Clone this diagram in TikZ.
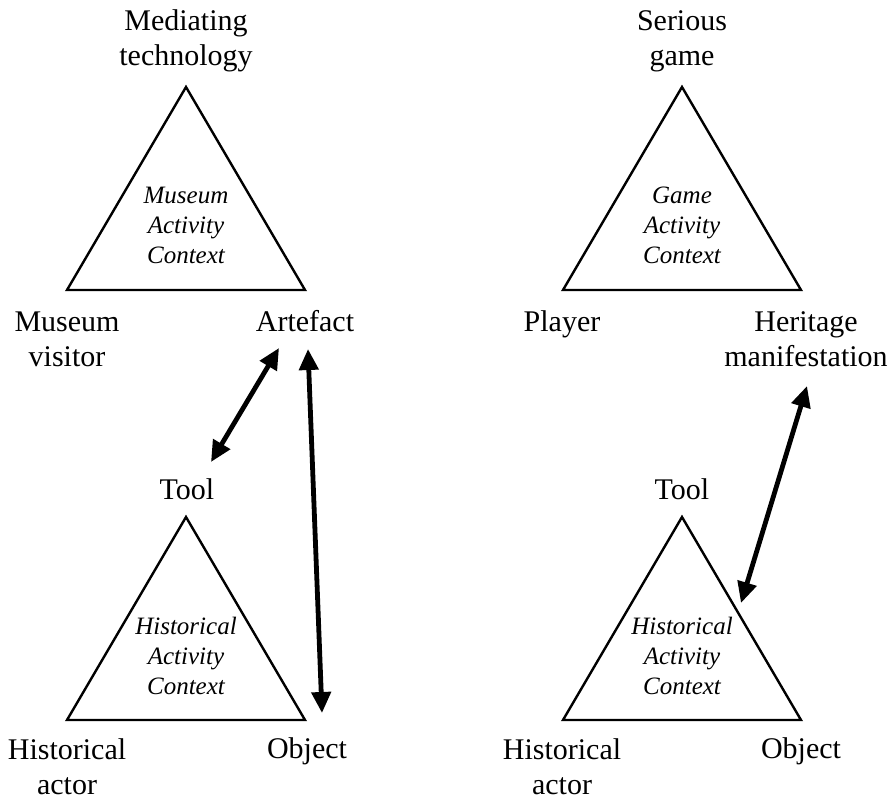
\documentclass[tikz,border=0pt]{standalone}
\usepackage{fontspec}
\setmainfont{Liberation Serif}
\usetikzlibrary{arrows.meta}
\begin{document}
\begin{tikzpicture}[x=1pt,y=-1pt,
  lbl/.style={align=center,inner sep=0pt,anchor=base,font=\fontsize{30}{35}\selectfont},
  ctx/.style={align=center,inner sep=0pt,anchor=base,font=\fontsize{25}{30}\selectfont\itshape},
  tri/.style={line width=2.4pt,line join=miter},
  dbl/.style={line width=4.8pt,{Triangle[length=21pt,width=19pt]}-{Triangle[length=21pt,width=19pt]}}]
\useasboundingbox (0,0) rectangle (895,801);
% triangles
\coordinate (A1) at (186,87);  \coordinate (B1) at (67,290);  \coordinate (C1) at (305,290);
\coordinate (A2) at (682,87);  \coordinate (B2) at (563,290); \coordinate (C2) at (801,290);
\coordinate (A3) at (186,517); \coordinate (B3) at (67,720);  \coordinate (C3) at (305,720);
\coordinate (A4) at (682,517); \coordinate (B4) at (563,720); \coordinate (C4) at (801,720);
\draw[tri] (A1) -- (B1) -- (C1) -- cycle;
\draw[tri] (A2) -- (B2) -- (C2) -- cycle;
\draw[tri] (A3) -- (B3) -- (C3) -- cycle;
\draw[tri] (A4) -- (B4) -- (C4) -- cycle;
% labels (positions are last-line baselines)
\node[lbl] (medtech) at (186,65) {Mediating\\technology};
\node[lbl] (serious) at (682,65) {Serious\\game};
\node[lbl] (visitor) at (67,366) {Museum\\visitor};
\node[lbl] (artefact) at (305,331) {Artefact};
\node[lbl] (player) at (562,331) {Player};
\node[lbl] (heritage) at (806,366) {Heritage\\manifestation};
\node[lbl] (tool1) at (187,499) {Tool};
\node[lbl] (tool2) at (682,499) {Tool};
\node[lbl] (actor1) at (67,794) {Historical\\actor};
\node[lbl] (actor2) at (562,794) {Historical\\actor};
\node[lbl] (object1) at (307,758) {Object};
\node[lbl] (object2) at (801,758) {Object};
% contexts
\node[ctx] (ctx1) at (186,263) {Museum\\Activity\\Context};
\node[ctx] (ctx2) at (682,263) {Game\\Activity\\Context};
\node[ctx] (ctx3) at (186,694) {Historical\\Activity\\Context};
\node[ctx] (ctx4) at (682,694) {Historical\\Activity\\Context};
% arrows
\coordinate (p1) at (279,348); \coordinate (q1) at (211,462);
\coordinate (p2) at (308,349); \coordinate (q2) at (322,713);
\coordinate (p3) at (807,386); \coordinate (q3) at (741,603);
\draw[dbl] (q1) -- (p1);
\draw[dbl] (q2) -- (p2);
\draw[dbl] (q3) -- (p3);
\end{tikzpicture}
\end{document}
